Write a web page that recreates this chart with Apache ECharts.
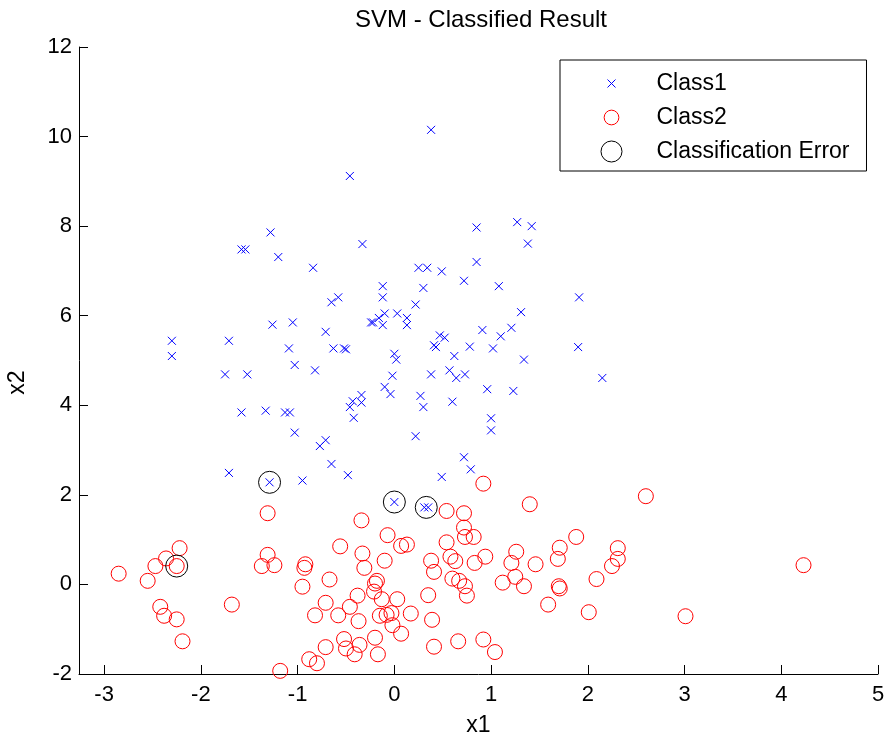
<!DOCTYPE html>
<html>
<head>
<meta charset="utf-8">
<title>SVM - Classified Result</title>
<script src="https://cdn.jsdelivr.net/npm/echarts@6/dist/echarts.min.js"></script>
<style>
  html, body { margin: 0; padding: 0; background: #fff; }
  #chart { width: 889px; height: 740px; }
</style>
</head>
<body>
<div id="chart"></div>
<script>
// Points predicted as Class1 (x1, x2)
const class1X = [0.38,-0.46,-1.28,-1.58,-1.54,-0.33,-1.20,-0.84,-0.12,-0.12,
  -0.58,-0.65,0.85,1.27,1.42,1.38,0.85,0.25,0.34,0.49,
  0.72,0.30,1.08,1.91,0.22,-0.24,-0.22,-0.16,-0.10,-0.12,
  0.03,0.13,0.13,-0.71,-0.63,-0.52,-0.50,-0.82,0.00,0.02,
  -0.02,-0.10,-0.04,-0.43,-0.46,-0.34,-0.34,-0.42,-0.71,-0.77,
  -0.65,-0.48,-0.95,0.22,0.27,0.30,0.38,0.41,0.43,0.47,
  0.52,0.62,0.57,0.64,0.73,0.60,0.78,0.91,1.02,1.10,
  0.96,1.00,1.00,0.72,0.79,0.49,1.31,1.21,1.34,1.90,
  2.15,1.23,-1.26,-1.05,-2.30,-1.71,-1.09,-2.30,-1.03,-1.75,
  -1.52,-1.58,-1.33,-1.13,-1.08,-1.03,-1.71,-1.29,0.00,0.31,0.35];
const class1Y = [10.15,9.12,7.86,7.48,7.48,7.60,7.31,7.07,6.66,6.41,
  6.41,6.30,7.97,8.09,8.00,7.61,7.20,7.07,7.07,6.99,
  6.78,6.62,6.66,6.41,6.25,5.85,5.85,5.95,6.05,5.79,
  6.05,5.95,5.79,5.64,5.27,5.27,5.25,4.78,5.15,5.02,
  4.66,4.41,4.25,4.09,3.96,4.23,4.06,3.72,3.22,3.09,
  2.69,2.44,2.32,3.31,4.21,3.96,4.69,5.34,5.30,5.56,
  5.51,5.10,4.78,4.61,4.69,4.08,5.31,5.68,5.27,5.54,
  4.36,3.71,3.44,2.84,2.57,2.40,6.08,5.73,5.02,5.30,
  4.61,4.32,5.80,5.85,5.44,5.44,5.27,5.10,4.90,4.69,
  4.69,3.84,3.88,3.84,3.84,3.39,2.49,2.28,1.84,1.72,1.72];

// Points predicted as Class2 (x1, x2)
const class2X = [-1.31,-0.34,-0.07,-2.22,-2.36,-2.47,-2.25,-2.85,-2.55,-1.31,
  -1.37,-1.24,-0.92,-0.93,-0.56,-0.33,-0.31,-0.10,-0.67,-0.95,
  -0.18,-0.20,-0.21,-0.13,-0.38,-0.71,-0.46,-0.58,-0.82,-0.37,
  -0.15,-0.08,-2.42,-2.38,-2.25,-1.68,-2.19,-0.71,-0.52,-0.50,
  -0.36,-0.41,-0.20,-0.17,-0.88,-0.80,-1.18,0.92,1.40,2.60,
  0.54,0.72,0.72,0.73,0.82,0.07,0.13,0.54,1.88,1.71,
  1.69,2.31,2.31,2.25,0.38,0.41,0.58,0.63,0.83,0.94,
  1.21,1.26,1.46,0.60,0.67,0.73,0.75,1.12,1.25,1.34,
  1.70,1.71,2.09,0.35,0.03,-0.03,0.17,-0.02,0.07,0.39,
  1.59,2.01,0.41,0.66,0.92,1.04,3.01,4.23];
const class2Y = [1.59,1.43,1.10,0.81,0.58,0.41,0.41,0.24,0.08,0.66,
  0.41,0.43,0.45,0.37,0.85,0.69,0.37,0.53,0.11,-0.05,
  0.08,0.02,-0.16,-0.33,-0.25,-0.41,-0.50,-0.69,-0.69,-0.82,
  -0.70,-0.68,-0.50,-0.70,-0.78,-0.45,-1.27,-1.40,-1.22,-1.43,
  -1.35,-1.56,-1.19,-1.56,-1.67,-1.76,-1.93,2.25,1.79,1.97,
  1.64,1.59,1.27,1.06,1.06,0.86,0.89,0.94,1.06,0.82,
  0.57,0.81,0.57,0.41,0.53,0.28,0.62,0.52,0.48,0.62,
  0.48,0.73,0.45,0.13,0.08,-0.04,-0.25,0.04,0.17,-0.04,
  -0.04,-0.09,0.12,-0.24,-0.33,-0.64,-0.65,-0.91,-1.10,-0.79,
  -0.45,-0.62,-1.39,-1.27,-1.23,-1.51,-0.71,0.43];

// Misclassified points
const errorX = [-1.29, 0.00, 0.33, -2.25];
const errorY = [2.28, 1.84, 1.72, 0.41];

// Axis ticks
const xTicks = [-3, -2, -1, 0, 1, 2, 3, 4, 5];
const yTicks = [-2, 0, 2, 4, 6, 8, 10, 12];

const zip = (xs, ys) => xs.map((v, i) => [v, ys[i]]);

const FONT = '"Liberation Sans", Arial, Helvetica, sans-serif';
const AXIS_COLOR = '#000';

// Marker shapes
const CROSS = 'path://M0,0L8,8M8,0L0,8';
// Legend icons padded to a common 22x22 box so their relative sizes are kept
const CROSS_ICON = 'path://M0,0M22,22M7,7L15,15M15,7L7,15';
const RING_ICON = 'path://M0,0M22,22M18.35,11A7.35,7.35,0,1,1,3.65,11A7.35,7.35,0,1,1,18.35,11Z';
const BIG_RING_ICON = 'path://M0,0M22,22M21.5,11A10.5,10.5,0,1,1,0.5,11A10.5,10.5,0,1,1,21.5,11Z';

const chart = echarts.init(document.getElementById('chart'), null, { renderer: 'canvas' });

const axisCommon = {
  axisLine: { onZero: false, lineStyle: { color: AXIS_COLOR, width: 1 } },
  axisTick: { inside: true, length: 9, lineStyle: { color: AXIS_COLOR, width: 1 } },
  splitLine: { show: false },
  nameTextStyle: { color: '#000', fontFamily: FONT, fontSize: 23 }
};

chart.setOption({
  animation: false,
  backgroundColor: '#fff',
  textStyle: { fontFamily: FONT },
  title: {
    text: 'SVM - Classified Result',
    left: 481,
    top: 8,
    textAlign: 'center',
    padding: 0,
    textStyle: { color: '#000', fontFamily: FONT, fontSize: 24, fontWeight: 'normal' }
  },
  // fixed plot box; labels are allowed to sit close to the canvas edge
  grid: { left: 79, right: 11, top: 47, bottom: 66, containLabel: false, outerBoundsMode: 'none' },
  legend: {
    orient: 'vertical',
    left: 560,
    top: 60,
    padding: [12, 17, 8, 40],
    itemWidth: 22,
    itemHeight: 22,
    itemGap: 11,
    backgroundColor: '#fff',
    borderColor: '#000',
    borderWidth: 1,
    borderRadius: 0,
    selectedMode: false,
    itemStyle: { borderWidth: 1 },
    textStyle: { color: '#000', fontFamily: FONT, fontSize: 23, padding: [0, 0, 0, 29] },
    data: [
      { name: 'Class1', icon: CROSS_ICON },
      { name: 'Class2', icon: RING_ICON },
      { name: 'Classification Error', icon: BIG_RING_ICON }
    ]
  },
  xAxis: Object.assign({}, axisCommon, {
    type: 'value',
    min: -3.26,
    max: 5,
    name: 'x1',
    nameLocation: 'middle',
    nameGap: 40,
    axisTick: Object.assign({}, axisCommon.axisTick, { customValues: xTicks }),
    axisLabel: { customValues: xTicks, color: '#000', fontFamily: FONT, fontSize: 22, margin: 10 }
  }),
  yAxis: Object.assign({}, axisCommon, {
    type: 'value',
    min: -2,
    max: 12,
    interval: 2,
    name: 'x2',
    nameLocation: 'middle',
    nameGap: 50,
    // the rotated name sits a little below the axis midpoint
    nameTextStyle: { color: '#000', fontFamily: FONT, fontSize: 23, padding: [0, 44, 0, 0] },
    axisTick: Object.assign({}, axisCommon.axisTick, { customValues: yTicks }),
    axisLabel: { customValues: yTicks, color: '#000', fontFamily: FONT, fontSize: 22, margin: 7 }
  }),
  series: [
    {
      name: 'Class1',
      type: 'scatter',
      symbol: CROSS,
      symbolSize: 8,
      itemStyle: { color: 'rgba(0,0,0,0)', borderColor: '#0000ff', borderWidth: 1, opacity: 1 },
      emphasis: { disabled: true },
      silent: true,
      data: zip(class1X, class1Y)
    },
    {
      name: 'Class2',
      type: 'scatter',
      symbol: 'circle',
      symbolSize: 15,
      itemStyle: { color: 'rgba(0,0,0,0)', borderColor: '#ff0000', borderWidth: 1, opacity: 1 },
      emphasis: { disabled: true },
      silent: true,
      data: zip(class2X, class2Y)
    },
    {
      name: 'Classification Error',
      type: 'scatter',
      symbol: 'circle',
      symbolSize: 22,
      itemStyle: { color: 'rgba(0,0,0,0)', borderColor: '#000000', borderWidth: 1, opacity: 1 },
      emphasis: { disabled: true },
      silent: true,
      data: zip(errorX, errorY)
    }
  ]
});
</script>
</body>
</html>
